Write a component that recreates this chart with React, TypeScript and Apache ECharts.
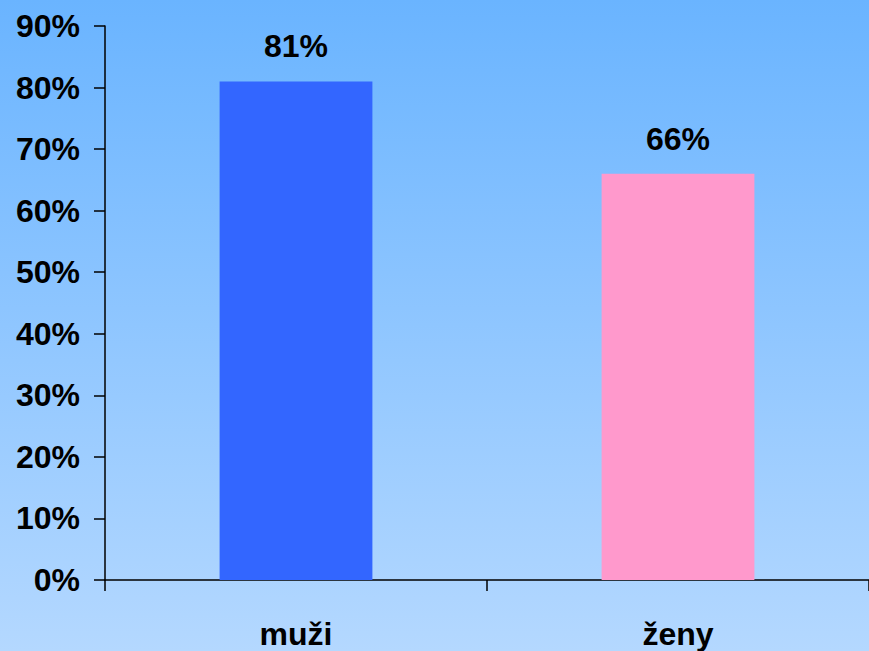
import React, { useEffect, useRef } from "react";
import * as echarts from "echarts";

const categories = ["muži", "ženy"];
const values = [81, 66];
const barColors = ["#3366FF", "#FF99CC"];
const yTicks = [0, 10, 20, 30, 40, 50, 60, 70, 80, 90];

export default function App() {
  const ref = useRef<HTMLDivElement>(null);
  useEffect(() => {
    if (!ref.current) return;
    const chart = echarts.init(ref.current, null, { renderer: "svg" });
    const font = { fontFamily: "'Liberation Sans', Arial, sans-serif", fontWeight: "bold" as const, fontSize: 32, color: "#000" };
    chart.setOption({
      animation: false,
      backgroundColor: new echarts.graphic.LinearGradient(0, 0, 0, 1, [
        { offset: 0, color: "#6AB4FF" },
        { offset: 1, color: "#B4D8FF" },
      ]),
      grid: { left: 105, right: 0, top: 26, bottom: 71, containLabel: false },
      xAxis: {
        type: "category",
        data: categories,
        axisLine: { lineStyle: { color: "#000", width: 1.5 } },
        axisTick: { show: true, length: 11, lineStyle: { color: "#000", width: 1.5 } },
        axisLabel: { ...font, margin: 38 },
      },
      yAxis: {
        type: "value",
        min: yTicks[0],
        max: yTicks[yTicks.length - 1],
        interval: 10,
        splitLine: { show: false },
        axisLine: { show: true, lineStyle: { color: "#000", width: 1.5 } },
        axisTick: { show: true, length: 11, lineStyle: { color: "#000", width: 1.5 } },
        axisLabel: { ...font, margin: 25, formatter: "{value}%" },
      },
      series: [
        {
          type: "bar",
          barWidth: "40%",
          data: values.map((v, i) => ({ value: v, itemStyle: { color: barColors[i] } })),
          label: { show: true, position: "top", distance: 19, formatter: "{c}%", ...font },
        },
      ],
    });
    return () => chart.dispose();
  }, []);
  return <div ref={ref} style={{ width: 869, height: 651, position: "absolute", left: 0, top: 0 }} />;
}
